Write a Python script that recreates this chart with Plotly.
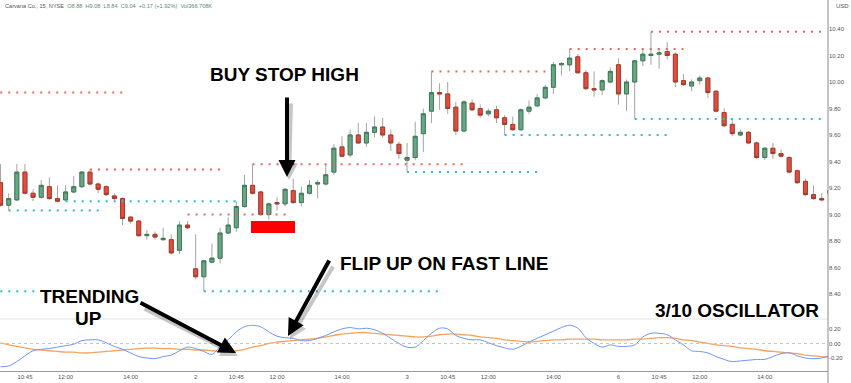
import plotly.graph_objects as go

# ---------------- data ----------------
# bar index of 15-minute bars (0 = first session 09:30)
bar_idx = list(range(2, 105))
opens = [9.24, 9.07, 9.11, 9.32, 9.16, 9.13, 9.21, 9.12, 9.11, 9.17, 9.21, 9.32, 9.23, 9.21, 9.14,
         9.12, 8.98, 8.95, 8.84, 8.85, 8.81, 8.81, 8.73, 8.92, 8.59, 8.53, 8.64, 8.67, 8.86, 8.90,
         9.06, 9.22, 9.17, 9.00, 9.09, 9.08, 9.18, 9.09, 9.16, 9.23, 9.23, 9.32, 9.51, 9.45, 9.60,
         9.54, 9.62, 9.66, 9.60, 9.53, 9.41, 9.43, 9.61, 9.78, 9.92, 9.91, 9.81, 9.63, 9.84, 9.80,
         9.76, 9.79, 9.73, 9.68, 9.64, 9.78, 9.82, 9.88, 9.96, 10.13, 10.13, 10.19, 10.07, 9.95, 9.94,
         10.00, 10.13, 9.91, 10.00, 10.16, 10.20, 10.21, 10.23, 10.21, 10.01, 9.97, 10.01, 10.03, 9.93, 9.77,
         9.68, 9.60, 9.62, 9.54, 9.43, 9.50, 9.46, 9.43, 9.33, 9.25, 9.15, 9.12, 9.18]
highs = [9.38, 9.16, 9.38, 9.38, 9.19, 9.26, 9.28, 9.22, 9.22, 9.29, 9.33, 9.34, 9.24, 9.22, 9.16,
         9.13, 8.99, 8.96, 8.88, 8.87, 8.90, 8.85, 8.95, 8.95, 8.85, 8.66, 8.78, 8.90, 8.98, 9.10,
         9.30, 9.38, 9.18, 9.09, 9.13, 9.20, 9.27, 9.21, 9.26, 9.26, 9.38, 9.53, 9.59, 9.64, 9.69,
         9.69, 9.74, 9.73, 9.64, 9.55, 9.54, 9.70, 9.80, 10.08, 9.99, 10.00, 9.85, 9.86, 9.87, 9.83,
         9.80, 9.82, 9.75, 9.74, 9.80, 9.86, 9.91, 9.98, 10.15, 10.15, 10.25, 10.21, 10.09, 10.08, 10.02,
         10.11, 10.18, 10.02, 10.16, 10.25, 10.38, 10.25, 10.30, 10.22, 10.06, 10.02, 10.05, 10.04, 9.94, 9.80,
         9.72, 9.64, 9.63, 9.55, 9.51, 9.54, 9.49, 9.44, 9.34, 9.27, 9.22, 9.16, 9.19]
lows = [9.06, 9.03, 9.10, 9.15, 9.10, 9.12, 9.11, 9.09, 9.10, 9.16, 9.20, 9.22, 9.16, 9.14, 9.11,
        8.92, 8.93, 8.83, 8.81, 8.81, 8.80, 8.70, 8.70, 8.89, 8.51, 8.42, 8.63, 8.63, 8.85, 8.87,
        9.05, 9.15, 8.99, 8.96, 9.03, 9.06, 9.08, 9.06, 9.15, 9.12, 9.22, 9.30, 9.43, 9.43, 9.53,
        9.51, 9.58, 9.58, 9.48, 9.42, 9.32, 9.41, 9.47, 9.69, 9.79, 9.76, 9.60, 9.62, 9.78, 9.73,
        9.74, 9.69, 9.60, 9.63, 9.63, 9.76, 9.81, 9.87, 9.91, 10.05, 10.08, 10.06, 9.94, 9.89, 9.90,
        9.99, 9.83, 9.78, 9.72, 10.12, 10.13, 10.10, 10.17, 9.96, 9.97, 9.93, 9.98, 9.88, 9.77, 9.66,
        9.59, 9.59, 9.53, 9.42, 9.41, 9.42, 9.43, 9.31, 9.23, 9.14, 9.11, 9.10, 9.15]
closes = [9.07, 9.12, 9.32, 9.16, 9.13, 9.22, 9.12, 9.10, 9.17, 9.21, 9.32, 9.23, 9.19, 9.15, 9.12,
          8.97, 8.95, 8.84, 8.85, 8.83, 8.82, 8.71, 8.92, 8.90, 8.53, 8.65, 8.67, 8.86, 8.92, 9.06,
          9.22, 9.16, 9.00, 9.08, 9.08, 9.19, 9.09, 9.16, 9.22, 9.24, 9.30, 9.50, 9.44, 9.60, 9.54,
          9.62, 9.66, 9.60, 9.54, 9.46, 9.43, 9.59, 9.76, 9.92, 9.91, 9.80, 9.63, 9.85, 9.79, 9.75,
          9.78, 9.73, 9.68, 9.64, 9.79, 9.81, 9.88, 9.96, 10.13, 10.14, 10.18, 10.07, 9.95, 9.94, 10.01,
          10.08, 9.91, 10.00, 10.16, 10.21, 10.21, 10.22, 10.20, 10.00, 9.98, 10.00, 10.03, 9.92, 9.78, 9.67,
          9.61, 9.62, 9.54, 9.43, 9.50, 9.46, 9.44, 9.32, 9.24, 9.15, 9.12, 9.11, 9.16]

# 3/10 oscillator (fast and slow line), one value per bar
osc_fast = [-0.32, -0.31, -0.25, -0.17, -0.10, -0.08, -0.07, -0.05, -0.03, -0.01, 0.04, 0.05, 0.05, 0.01, -0.04,
            -0.08, -0.13, -0.18, -0.20, -0.21, -0.18, -0.16, -0.10, -0.05, -0.07, -0.11, -0.15, -0.04, 0.05, 0.16,
            0.23, 0.25, 0.23, 0.16, 0.10, 0.08, 0.07, 0.04, 0.04, 0.07, 0.11, 0.16, 0.20, 0.22, 0.20,
            0.21, 0.19, 0.14, 0.07, 0.00, -0.05, -0.05, 0.04, 0.14, 0.21, 0.20, 0.11, 0.07, 0.05, 0.05,
            0.01, -0.03, -0.06, -0.08, -0.04, 0.02, 0.07, 0.12, 0.17, 0.22, 0.25, 0.21, 0.08, 0.00, -0.05,
            -0.02, -0.04, -0.04, -0.02, 0.09, 0.14, 0.14, 0.12, 0.05, -0.02, -0.10, -0.11, -0.13, -0.18, -0.22,
            -0.25, -0.24, -0.23, -0.22, -0.22, -0.18, -0.14, -0.13, -0.17, -0.20, -0.21, -0.20, -0.17]
osc_slow = [0.01, -0.02, -0.04, -0.06, -0.08, -0.09, -0.10, -0.11, -0.12, -0.12, -0.13, -0.13, -0.12, -0.11, -0.10,
            -0.09, -0.08, -0.07, -0.065, -0.065, -0.07, -0.07, -0.08, -0.08, -0.09, -0.09, -0.10, -0.11, -0.11, -0.10,
            -0.08, -0.05, -0.03, 0.00, 0.02, 0.03, 0.04, 0.05, 0.06, 0.07, 0.09, 0.11, 0.13, 0.14, 0.15,
            0.15, 0.14, 0.13, 0.12, 0.11, 0.10, 0.09, 0.09, 0.10, 0.12, 0.13, 0.13, 0.12, 0.11, 0.09,
            0.08, 0.07, 0.05, 0.04, 0.03, 0.02, 0.03, 0.04, 0.05, 0.05, 0.06, 0.06, 0.06, 0.06, 0.05,
            0.05, 0.05, 0.05, 0.06, 0.06, 0.07, 0.08, 0.08, 0.07, 0.05, 0.04, 0.02, 0.00, -0.02, -0.03,
            -0.04, -0.06, -0.07, -0.08, -0.10, -0.11, -0.12, -0.13, -0.14, -0.16, -0.17, -0.18, -0.19]

# dotted high / low levels: price, start bar, end bar, kind
level_price = [9.92, 9.34, 9.00, 9.38, 10.08, 10.25, 10.38,
               9.03, 9.10, 8.42, 8.42, 9.32, 9.60, 9.72]
level_start = [0, 13, 25, 33, 55, 72, 82,
               3, 10, 0, 27, 52, 64, 80]
level_end = [17.3, 29.2, 37.2, 59.1, 69.6, 86, 103.2,
             14.2, 31.2, 6.9, 56, 68.4, 84.1, 103.2]
level_kind = ["high"] * 7 + ["low"] * 7

tick_bars = [5, 10, 18, 26, 31, 36, 44, 52, 57, 62, 70, 78, 83, 88, 96]
tick_text = ["10:45", "12:00", "14:00", "2", "10:45", "12:00", "14:00", "3",
             "10:45", "12:00", "14:00", "6", "10:45", "12:00", "14:00"]
price_ticks = [8.40, 8.60, 8.80, 9.00, 9.20, 9.40, 9.60, 9.80, 10.00, 10.20, 10.40]
osc_ticks = [-0.20, 0.00, 0.20]

# ---------------- figure ----------------
W, H = 851, 383
ML, MR, MT, MB = 0, 23, 0, 12
PW, PH = W - ML - MR, H - MT - MB  # 828 x 371


def px(xp):
    return xp / PW


def py(yp):
    return (PH - yp) / PH


osc_frac = 52 / PH

fig = go.Figure()

# wicks (grey)
fig.add_trace(go.Candlestick(
    x=bar_idx, open=opens, high=highs, low=lows, close=closes,
    increasing=dict(line=dict(color="#a3a3a3", width=1), fillcolor="rgba(0,0,0,0)"),
    decreasing=dict(line=dict(color="#a3a3a3", width=1), fillcolor="rgba(0,0,0,0)"),
    whiskerwidth=0, hoverinfo="skip", showlegend=False, xaxis="x", yaxis="y"))
# bodies
body_hi = [max(o, c) for o, c in zip(opens, closes)]
body_lo = [min(o, c) for o, c in zip(opens, closes)]
fig.add_trace(go.Candlestick(
    x=bar_idx, open=opens, high=body_hi, low=body_lo, close=closes,
    increasing=dict(line=dict(color="#3d7a57", width=1), fillcolor="#69a684"),
    decreasing=dict(line=dict(color="#a9382a", width=1), fillcolor="#df4f3d"),
    whiskerwidth=0, hoverinfo="skip", showlegend=False, xaxis="x", yaxis="y"))

for p, s, e, k in zip(level_price, level_start, level_end, level_kind):
    fig.add_trace(go.Scatter(
        x=[s, e], y=[p, p], mode="lines",
        line=dict(color="#f0625a" if k == "high" else "#22bfd6", width=2, dash="2px,6px"),
        hoverinfo="skip", showlegend=False, xaxis="x", yaxis="y"))

fig.add_trace(go.Scatter(x=bar_idx, y=osc_slow, mode="lines",
                         line=dict(color="#f5a35f", width=1.3, shape="spline"),
                         hoverinfo="skip", showlegend=False, xaxis="x2", yaxis="y2"))
fig.add_trace(go.Scatter(x=bar_idx, y=osc_fast, mode="lines",
                         line=dict(color="#7096f4", width=1, shape="spline"),
                         hoverinfo="skip", showlegend=False, xaxis="x2", yaxis="y2"))

tickfont = dict(family="Liberation Sans, Arial", size=6, color="#555")
xr = [(0 + 15.7) / 8.13, (PW + 15.7) / 8.13]

fig.update_layout(
    width=W, height=H, margin=dict(l=ML, r=MR, t=MT, b=MB),
    paper_bgcolor="white", plot_bgcolor="white",
    xaxis=dict(domain=[0, 1], anchor="y", range=xr, showticklabels=False, showgrid=False,
               zeroline=False, rangeslider=dict(visible=False), fixedrange=True),
    xaxis2=dict(domain=[0, 1], anchor="y2", range=xr, matches="x", showgrid=False, zeroline=False,
                tickvals=tick_bars, ticktext=tick_text, tickfont=tickfont, ticks="",
                showline=True, linecolor="#9a9a9a", linewidth=1),
    yaxis=dict(domain=[osc_frac, 1], anchor="x", side="right", range=[8.211, 10.619],
               tickvals=price_ticks, ticktext=["%.2f" % v for v in price_ticks],
               tickfont=tickfont, showgrid=False, zeroline=False, ticks=""),
    yaxis2=dict(domain=[0, osc_frac], anchor="x2", side="right", range=[-0.379, 0.337],
                tickvals=osc_ticks, ticktext=["%.2f" % v for v in osc_ticks],
                tickfont=tickfont, showgrid=False, zeroline=False, ticks=""),
    showlegend=False,
)

shapes = [
    # panel separator
    dict(type="line", xref="paper", yref="paper", x0=0, x1=1, y0=osc_frac, y1=osc_frac,
         line=dict(color="#e3e3e3", width=1)),
    # right price scale line
    dict(type="line", xref="paper", yref="paper", x0=1, x1=1, y0=-0.04, y1=1,
         line=dict(color="#8a8a8a", width=1)),
    # oscillator zero line
    dict(type="line", xref="paper", yref="y2", x0=0, x1=1, y0=0, y1=0,
         line=dict(color="#c4c4c4", width=1, dash="3px,3px")),
    # red marker box
    dict(type="rect", xref="paper", yref="paper", x0=px(251), x1=px(295), y0=py(233), y1=py(221),
         fillcolor="#ff0000", line=dict(width=0)),
]
fig.update_layout(shapes=shapes)

big = dict(family="Liberation Sans, Arial", size=19, color="black")
ann = []


def label(text, xc, yc):
    ann.append(dict(text="<b>%s</b>" % text, xref="paper", yref="paper", x=px(xc), y=py(yc),
                    xanchor="center", yanchor="middle", showarrow=False, font=big))


def arrow(tip, tail, color="black", dx=0, dy=0):
    ann.append(dict(text="", xref="paper", yref="paper",
                    x=px(tip[0] + dx), y=py(tip[1] + dy),
                    ax=tail[0] - tip[0], ay=tail[1] - tip[1], axref="pixel", ayref="pixel",
                    showarrow=True, arrowhead=2, arrowsize=0.85, arrowwidth=4, arrowcolor=color,
                    standoff=0))


arrows = [((287, 177), (287, 96)), ((288, 336), (330, 259)), ((236, 353), (139, 302))]
for tip, tail in arrows:
    arrow(tip, (tail[0] + 2, tail[1] + 3), color="rgba(0,0,0,0.22)", dx=2, dy=3)
for tip, tail in arrows:
    arrow(tip, tail)

label("BUY STOP HIGH", 284, 75)
label("FLIP UP ON FAST LINE", 444, 263)
label("TRENDING", 89.5, 296)
label("UP", 88.5, 318)
label("3/10 OSCILLATOR", 736.5, 310)

ann.append(dict(
    text="<span style='color:#555'>Carvana Co., 15, NYSE</span>  "
         "<span style='color:#5d8a70'>O8.88  H9.08  L8.84  C9.04  +0.17 (+1.92%)  Vol366.708K</span>",
    xref="paper", yref="paper", x=px(3), y=py(6), xanchor="left", yanchor="middle",
    showarrow=False, font=dict(family="Liberation Sans, Arial", size=5.6, color="#555")))
ann.append(dict(text="USD", xref="paper", yref="paper", x=px(834), y=py(6), xanchor="left",
                yanchor="middle", showarrow=False, font=tickfont))

fig.update_layout(annotations=ann)

fig.write_html("out.html", config={"displayModeBar": False},
               post_script="document.body.style.margin='0';document.body.style.overflow='hidden';")
